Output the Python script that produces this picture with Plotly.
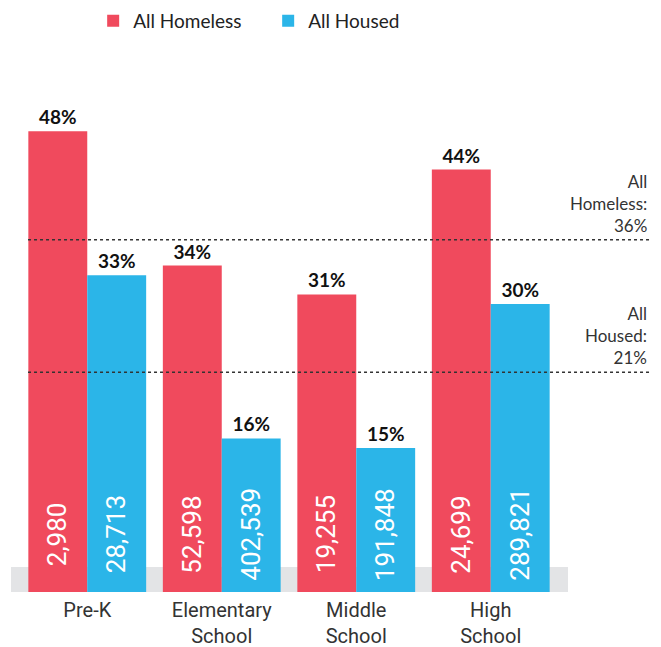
import plotly.graph_objects as go

# data
categories = ['Pre-K', 'Elementary<br>School', 'Middle<br>School', 'High<br>School']
homeless_pct = [48, 34, 31, 44]
housed_pct = [33, 16, 15, 30]
homeless_count = ['2,980', '52,598', '19,255', '24,699']
housed_count = ['28,713', '402,539', '191,848', '289,821']
avg_labels = ['All<br>Homeless:<br>36%', 'All<br>Housed:<br>21%']
avg_line_y = [36.7, 22.9]  # where the dotted lines sit in the picture

red = '#F04A5D'
blue = '#2BB5E8'

fig = go.Figure()
fig.add_trace(go.Bar(
    x=categories, y=homeless_pct, name='All Homeless',
    marker=dict(color=red, line=dict(width=0)),
    text=[f'{v}%' for v in homeless_pct], textposition='outside',
    textfont=dict(family='Lato', size=19, color='#111', weight='bold'),
    cliponaxis=False,
))
fig.add_trace(go.Bar(
    x=categories, y=housed_pct, name='All Housed',
    marker=dict(color=blue, line=dict(width=0)),
    text=[f'{v}%' for v in housed_pct], textposition='outside',
    textfont=dict(family='Lato', size=19, color='#111', weight='bold'),
    cliponaxis=False,
))

# grey base band
fig.add_shape(type='rect', xref='paper', yref='y', x0=-0.0167, x1=1.0186,
              y0=0, y1=2.6, fillcolor='#E3E4E6', line=dict(width=0), layer='below')

# dotted average lines + labels
for yv, lab in zip(avg_line_y, avg_labels):
    fig.add_shape(type='line', xref='paper', yref='y', x0=0.0149, x1=1.171,
                  y0=yv, y1=yv, line=dict(color='#333', width=1.5, dash='dot'))
    fig.add_annotation(xref='paper', yref='y', x=1.169, y=yv, text=lab,
                       showarrow=False, xanchor='right', yanchor='bottom', align='right',
                       yshift=2, font=dict(family='Lato', size=17, color='#333'))

# counts written vertically inside bars
for i, c in enumerate(categories):
    for cnt, shift in ((homeless_count[i], -29.5), (housed_count[i], 29.5)):
        fig.add_annotation(x=c, y=6.0, text=cnt, textangle=-90, showarrow=False,
                           xshift=shift, font=dict(family='Roboto', size=26, color='white'))

# page body has an 8px margin, so the figure is a bit smaller than the window
fig.update_layout(
    width=653, height=639,
    margin=dict(l=12, r=103, t=46, b=55, autoexpand=False),
    plot_bgcolor='white', paper_bgcolor='white',
    barmode='group', bargap=0.124, bargroupgap=0,
    showlegend=True,
    legend=dict(orientation='h', x=0.136, xanchor='left', y=1.0967, yanchor='top',
                font=dict(family='Lato', size=19, color='#222'),
                entrywidth=130, entrywidthmode='pixels', itemclick=False),
    xaxis=dict(range=[-0.5, 3.5], showgrid=False, showline=False, zeroline=False,
               ticks='', ticklabelstandoff=4, automargin=False,
               tickfont=dict(family='Roboto', size=20, color='#333')),
    yaxis=dict(range=[0, 56.04], visible=False, showgrid=False, zeroline=False,
               automargin=False),
)

fig.write_html('out.html')
